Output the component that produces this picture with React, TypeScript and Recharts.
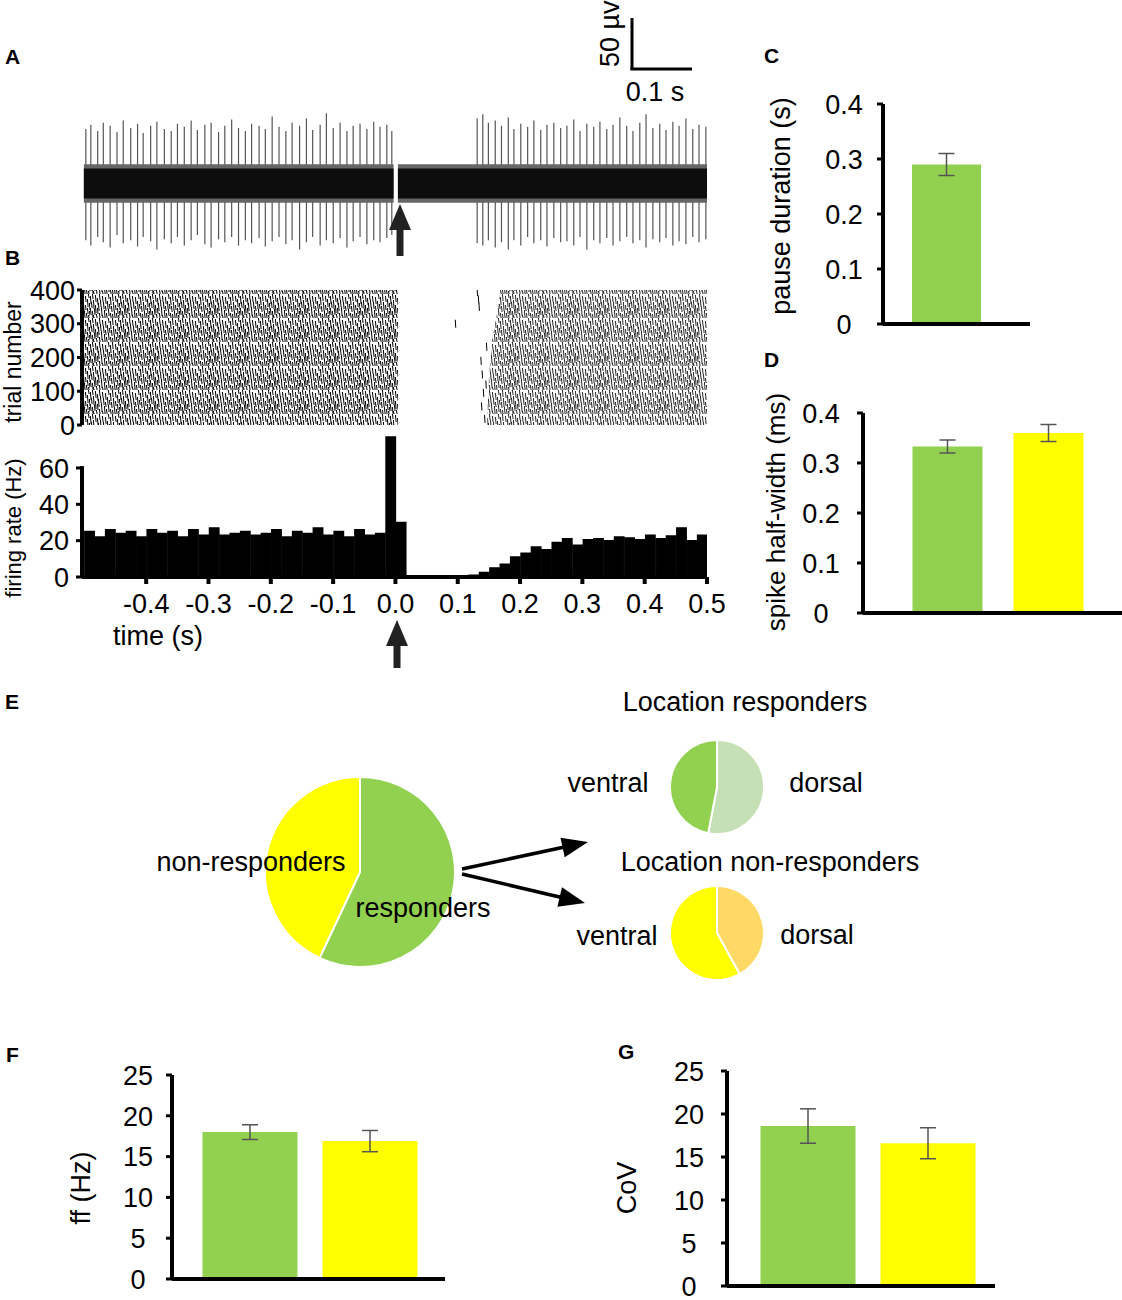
import React from "react";
import {
  Area,
  Bar,
  BarChart,
  Cell,
  ComposedChart,
  ErrorBar,
  Pie,
  PieChart,
  ReferenceLine,
  Scatter,
  XAxis,
  YAxis,
} from "recharts";

const FONT = '"Liberation Sans", Arial, Helvetica, sans-serif';
const GREEN = "#92d050";
const YELLOW = "#ffff00";
const LIGHT_GREEN = "#c5e0b4";
const LIGHT_ORANGE = "#ffd966";

// ---- A: example trace (time s, spike top µV, spike bottom µV)
const traceSpikes: [number, number, number][] = [
  [-0.497, 52, -55], [-0.489, 56, -60], [-0.478, 50, -52], [-0.469, 58, -57],
  [-0.458, 55, -62], [-0.447, 49, -50], [-0.437, 60, -58], [-0.425, 53, -55],
  [-0.414, 57, -61], [-0.405, 48, -52], [-0.393, 55, -56], [-0.383, 59, -64],
  [-0.371, 52, -54], [-0.36, 50, -58], [-0.35, 57, -52], [-0.339, 54, -60],
  [-0.328, 60, -55], [-0.318, 51, -50], [-0.306, 56, -59], [-0.296, 58, -62],
  [-0.284, 49, -54], [-0.274, 55, -57], [-0.263, 61, -52], [-0.252, 53, -60],
  [-0.241, 50, -55], [-0.231, 57, -58], [-0.219, 55, -53], [-0.209, 52, -61],
  [-0.198, 64, -56], [-0.187, 54, -52], [-0.176, 50, -59], [-0.166, 58, -55],
  [-0.154, 55, -64], [-0.143, 62, -57], [-0.133, 51, -52], [-0.121, 56, -60],
  [-0.111, 67, -55], [-0.1, 53, -58], [-0.089, 58, -53], [-0.078, 50, -62],
  [-0.068, 55, -56], [-0.057, 57, -52], [-0.046, 52, -59], [-0.035, 59, -55],
  [-0.025, 54, -57], [-0.014, 56, -53], [-0.006, 50, -50],
  [0.131, 62, -58], [0.14, 66, -60], [0.149, 58, -55], [0.16, 60, -62],
  [0.17, 55, -57], [0.181, 63, -64], [0.19, 52, -55], [0.201, 57, -60],
  [0.212, 54, -52], [0.222, 60, -58], [0.233, 51, -55], [0.243, 56, -61],
  [0.254, 58, -53], [0.265, 53, -57], [0.275, 55, -56], [0.286, 61, -60],
  [0.296, 50, -52], [0.307, 57, -64], [0.318, 54, -55], [0.328, 59, -58],
  [0.339, 52, -53], [0.349, 56, -60], [0.36, 63, -56], [0.371, 55, -52],
  [0.381, 50, -58], [0.392, 58, -55], [0.402, 66, -62], [0.413, 53, -54],
  [0.424, 57, -57], [0.434, 51, -53], [0.445, 59, -60], [0.455, 55, -56],
  [0.466, 62, -59], [0.477, 52, -52], [0.487, 56, -57], [0.498, 54, -54],
];

const traceBand = [
  { t: -0.5, outerPre: [-19, 18], innerPre: [-15, 14], outerPost: null, innerPost: null },
  { t: -0.003, outerPre: [-19, 18], innerPre: [-15, 14], outerPost: null, innerPost: null },
  { t: 0.004, outerPre: null, innerPre: null, outerPost: [-19, 18], innerPost: [-15, 14] },
  { t: 0.5, outerPre: null, innerPre: null, outerPost: [-19, 18], innerPost: [-15, 14] },
];

// ---- B: raster regions (time s, trial range) and stray spikes in the pause
const rasterPre = [
  { t: -0.5, trials: [0, 400] },
  { t: 0.004, trials: [0, 400] },
];
const rasterPost = [
  { t: 0.147, trials: [0, 0] },
  { t: 0.15, trials: [0, 140] },
  { t: 0.155, trials: [0, 250] },
  { t: 0.163, trials: [0, 330] },
  { t: 0.168, trials: [0, 400] },
  { t: 0.5, trials: [0, 400] },
];
const rasterStray = [
  { t: 0.096, trial: 300 },
  { t: 0.131, trial: 394 },
  { t: 0.133, trial: 372 },
  { t: 0.134, trial: 350 },
  { t: 0.146, trial: 232 },
  { t: 0.137, trial: 190 },
  { t: 0.139, trial: 150 },
  { t: 0.145, trial: 120 },
  { t: 0.141, trial: 95 },
  { t: 0.138, trial: 55 },
  { t: 0.143, trial: 18 },
];
const rasterTicks = [0, 100, 200, 300, 400];

// ---- B: PSTH, 60 bins of 1/60 s from -0.5 s to 0.5 s (Hz)
const psthStart = -0.5;
const psthBinWidth = 1 / 60;
const psthRates = [
  25, 22, 26, 24, 25, 22, 26, 24, 25, 22, 26, 23, 27, 23, 24, 25, 23, 24, 26, 22,
  25, 24, 27, 23, 25, 22, 26, 23, 24, 77, 30, 0, 0, 0, 0, 0, 0.5, 1, 2.5, 5,
  7, 11, 13, 16.5, 15, 19, 21, 17.5, 20.5, 21, 20, 22, 21.5, 20.5, 23, 21, 22.5, 27, 20, 23,
];
const timeTicks = [-0.4, -0.3, -0.2, -0.1, 0, 0.1, 0.2, 0.3, 0.4, 0.5];
const rateTicks = [0, 20, 40, 60];

// ---- C, D, F, G: group means and SEM
const pauseGroups = ["responders"];
const pauseMean = [0.29];
const pauseSem = [0.02];
const halfWidthGroups = ["responders", "non-responders"];
const halfWidthMean = [0.333, 0.36];
const halfWidthSem = [0.013, 0.017];
const ffGroups = ["responders", "non-responders"];
const ffMean = [18.0, 16.9];
const ffSem = [0.9, 1.3];
const covGroups = ["responders", "non-responders"];
const covMean = [18.6, 16.6];
const covSem = [2.0, 1.8];
const smallTicks = [0, 0.1, 0.2, 0.3, 0.4];
const fiveTicks = [0, 5, 10, 15, 20, 25];

// ---- E: proportions (%)
const responderShare = [
  { name: "responders", value: 57 },
  { name: "non-responders", value: 43 },
];
const responderLocation = [
  { name: "dorsal", value: 53 },
  { name: "ventral", value: 47 },
];
const nonResponderLocation = [
  { name: "dorsal", value: 42 },
  { name: "ventral", value: 58 },
];

const panelLetters = [
  { id: "A", x: 5, y: 64 },
  { id: "B", x: 5, y: 265 },
  { id: "C", x: 764, y: 63 },
  { id: "D", x: 764, y: 367 },
  { id: "E", x: 5, y: 709 },
  { id: "F", x: 6, y: 1062 },
  { id: "G", x: 618, y: 1059 },
];

const X_DOMAIN: [number, number] = [-0.503, 0.5];
const NO_MARGIN = { top: 0, right: 0, bottom: 0, left: 0 };

// texture tile for the raster (x, y, length)
const rasterTile: [number, number, number][] = [
  [0, 2, 8], [0, 14, 7], [1, 8, 6], [2, 0, 5], [2, 17, 7], [3, 6, 9], [4, 15, 6], [5, 1, 7],
  [5, 11, 8], [6, 20, 4], [7, 4, 7], [7, 14, 6], [8, 9, 8], [9, 0, 6], [9, 19, 5], [10, 6, 7],
  [11, 13, 9], [12, 2, 6], [12, 21, 3], [13, 8, 7], [14, 16, 8], [15, 3, 7], [15, 12, 5],
  [16, 19, 5], [17, 7, 8], [18, 0, 5], [18, 15, 7], [19, 10, 5], [20, 3, 8], [20, 19, 5],
  [21, 12, 6], [22, 0, 7], [22, 20, 4], [23, 8, 9], [24, 17, 7], [25, 2, 6], [25, 11, 5],
  [26, 19, 5], [27, 5, 8], [27, 14, 6], [28, 0, 4], [28, 21, 3], [29, 9, 7], [29, 17, 5],
  [3, 21, 3],
];

function RasterPattern() {
  return (
    <defs>
      <pattern id="rasterFill" patternUnits="userSpaceOnUse" width={30} height={24}>
        {rasterTile.map(([x, y, h], i) => (
          <line key={i} x1={x + 0.4} y1={y} x2={x + 1.1} y2={y + h} stroke="#000" strokeWidth={1} />
        ))}
      </pattern>
    </defs>
  );
}

function yTick(anchor: "middle" | "end", shift: number, fontSize = 27) {
  return (props: any) => (
    <text
      x={props.x - shift}
      y={props.y}
      dy="0.36em"
      textAnchor={anchor}
      fontSize={fontSize}
      fontFamily={FONT}
      fill="#000"
    >
      {props.payload.value}
    </text>
  );
}

function TimeTick(props: any) {
  return (
    <text x={props.x} y={props.y} dy={29} textAnchor="middle" fontSize={27} fontFamily={FONT} fill="#000">
      {Number(props.payload.value).toFixed(1)}
    </text>
  );
}

const abs = (left: number, top: number): React.CSSProperties => ({ position: "absolute", left, top });

type BarPanelProps = {
  left: number;
  top: number;
  width: number;
  height: number;
  margin: { top: number; right: number; bottom: number; left: number };
  groups: string[];
  means: number[];
  sems: number[];
  colors: string[];
  domain: [number, number];
  ticks: number[];
  yWidth: number;
  barSize: number;
  padding: { left: number; right: number };
  tickShift: number;
};

function BarPanel(p: BarPanelProps) {
  const data = p.groups.map((g, i) => ({ name: g, v: p.means[i], err: p.sems[i] }));
  return (
    <div style={abs(p.left, p.top)}>
      <BarChart width={p.width} height={p.height} data={data} margin={p.margin}>
        <XAxis
          dataKey="name"
          tick={false}
          tickLine={false}
          height={1}
          padding={p.padding}
          axisLine={{ stroke: "#000", strokeWidth: 4 }}
        />
        <YAxis
          width={p.yWidth}
          domain={p.domain}
          ticks={p.ticks}
          interval={0}
          tickSize={6}
          tickMargin={0}
          axisLine={{ stroke: "#000", strokeWidth: 4 }}
          tickLine={{ stroke: "#000", strokeWidth: 3 }}
          tick={yTick("middle", p.tickShift)}
        />
        <Bar dataKey="v" barSize={p.barSize} isAnimationActive={false}>
          {data.map((d, i) => (
            <Cell key={d.name} fill={p.colors[i]} />
          ))}
          <ErrorBar dataKey="err" width={8} stroke="#555" strokeWidth={1.5} />
        </Bar>
      </BarChart>
    </div>
  );
}

function arrowPath(x1: number, y1: number, x2: number, y2: number, len: number, hw: number) {
  const d = Math.hypot(x2 - x1, y2 - y1);
  const ux = (x2 - x1) / d;
  const uy = (y2 - y1) / d;
  const bx = x2 - ux * len;
  const by = y2 - uy * len;
  return {
    line: { x1, y1, x2: bx + ux * 2, y2: by + uy * 2 },
    head: `${x2},${y2} ${bx - uy * hw},${by + ux * hw} ${bx + uy * hw},${by - ux * hw}`,
  };
}

function upArrow(cx: number, tip: number, bottom: number) {
  const hh = 26;
  const hw = 11;
  const sw = 3.5;
  return `${cx},${tip} ${cx + hw},${tip + hh} ${cx + sw},${tip + hh} ${cx + sw},${bottom} ${cx - sw},${bottom} ${cx - sw},${tip + hh} ${cx - hw},${tip + hh}`;
}

export default function App() {
  const spikeData = traceSpikes.map(([t, up, down]) => ({ t, range: [down, up] }));
  const psthData = psthRates.map((rate, i) => ({ t: psthStart + (i + 0.5) * psthBinWidth, rate }));
  const e1 = arrowPath(462, 869, 588, 842, 26, 10);
  const e2 = arrowPath(462, 874, 585, 903, 26, 10);

  const txt = { fontFamily: FONT, fill: "#000" } as const;

  return (
    <div style={{ position: "absolute", left: 0, top: 0, width: 1122, height: 1300, background: "#fff", overflow: "hidden" }}>
      {/* A: spikes */}
      <div style={abs(0, 90)}>
        <ComposedChart width={720} height={190} data={spikeData} margin={{ top: 9.8, right: 13, bottom: 13.8, left: 82 }}>
          <XAxis type="number" dataKey="t" domain={X_DOMAIN} hide allowDataOverflow />
          <YAxis type="number" domain={[-80, 80]} hide allowDataOverflow />
          <Bar dataKey="range" barSize={1.2} fill="#555" isAnimationActive={false} />
        </ComposedChart>
      </div>
      {/* A: noise band */}
      <div style={abs(0, 90)}>
        <ComposedChart width={720} height={190} data={traceBand} margin={{ top: 9.8, right: 13, bottom: 13.8, left: 82 }}>
          <XAxis type="number" dataKey="t" domain={X_DOMAIN} hide allowDataOverflow />
          <YAxis type="number" domain={[-80, 80]} hide allowDataOverflow />
          <Area type="linear" dataKey="outerPre" stroke="none" fill="#666" fillOpacity={1} isAnimationActive={false} />
          <Area type="linear" dataKey="outerPost" stroke="none" fill="#666" fillOpacity={1} isAnimationActive={false} />
          <Area type="linear" dataKey="innerPre" stroke="none" fill="#0d0d0d" fillOpacity={1} isAnimationActive={false} />
          <Area type="linear" dataKey="innerPost" stroke="none" fill="#0d0d0d" fillOpacity={1} isAnimationActive={false} />
        </ComposedChart>
      </div>

      {/* B: raster, pre-stimulus block with axis */}
      <div style={abs(0, 270)}>
        <ComposedChart width={720} height={175} data={rasterPre} margin={{ top: 20, right: 13, bottom: 20, left: 0 }}>
          <RasterPattern />
          <XAxis type="number" dataKey="t" domain={X_DOMAIN} hide allowDataOverflow />
          <YAxis
            type="number"
            width={82}
            domain={[0, 400]}
            ticks={rasterTicks}
            interval={0}
            tickSize={5}
            tickMargin={0}
            axisLine={{ stroke: "#000", strokeWidth: 4 }}
            tickLine={{ stroke: "#000", strokeWidth: 3 }}
            tick={yTick("end", 2)}
          />
          <Area type="linear" dataKey="trials" stroke="none" fill="url(#rasterFill)" fillOpacity={1} isAnimationActive={false} />
        </ComposedChart>
      </div>
      <div style={abs(0, 270)}>
        <ComposedChart width={720} height={175} data={rasterPost} margin={{ top: 20, right: 13, bottom: 20, left: 82 }}>
          <RasterPattern />
          <XAxis type="number" dataKey="t" domain={X_DOMAIN} hide allowDataOverflow />
          <YAxis type="number" domain={[0, 400]} hide allowDataOverflow />
          <Area type="linear" dataKey="trials" stroke="none" fill="url(#rasterFill)" fillOpacity={0.85} isAnimationActive={false} />
        </ComposedChart>
      </div>
      <div style={abs(0, 270)}>
        <ComposedChart width={720} height={175} data={rasterStray} margin={{ top: 20, right: 13, bottom: 20, left: 82 }}>
          <XAxis type="number" dataKey="t" domain={X_DOMAIN} hide allowDataOverflow />
          <YAxis type="number" dataKey="trial" domain={[0, 400]} hide allowDataOverflow />
          <Scatter
            isAnimationActive={false}
            shape={(s: any) => <line x1={s.cx} y1={s.cy - 4} x2={s.cx + 0.5} y2={s.cy + 4} stroke="#000" strokeWidth={1} />}
          />
        </ComposedChart>
      </div>

      {/* B: PSTH */}
      <div style={abs(0, 420)}>
        <ComposedChart
          width={745}
          height={212}
          data={psthData}
          barCategoryGap={0}
          barGap={0}
          margin={{ top: 11.6, right: 38, bottom: 10, left: 0 }}
        >
          <XAxis
            type="number"
            dataKey="t"
            domain={X_DOMAIN}
            allowDataOverflow
            ticks={timeTicks}
            interval={0}
            height={45}
            tickSize={7}
            tickMargin={0}
            axisLine={{ stroke: "#000", strokeWidth: 4 }}
            tickLine={{ stroke: "#000", strokeWidth: 4 }}
            tick={TimeTick}
          />
          <YAxis
            type="number"
            width={82}
            domain={[0, 80]}
            ticks={rateTicks}
            interval={0}
            tickSize={6}
            tickMargin={0}
            axisLine={false}
            tickLine={{ stroke: "#000", strokeWidth: 3 }}
            tick={yTick("end", 7)}
          />
          <ReferenceLine
            segment={[
              { x: X_DOMAIN[0], y: 0 },
              { x: X_DOMAIN[0], y: 61 },
            ]}
            stroke="#000"
            strokeWidth={4}
            ifOverflow="visible"
          />
          <Bar dataKey="rate" barSize={10.4} fill="#000" stroke="#000" strokeWidth={1.5} isAnimationActive={false} />
        </ComposedChart>
      </div>

      {/* C */}
      <BarPanel
        left={800}
        top={90}
        width={240}
        height={250}
        margin={{ top: 14, right: 10, bottom: 15, left: 0 }}
        groups={pauseGroups}
        means={pauseMean}
        sems={pauseSem}
        colors={[GREEN]}
        domain={[0, 0.4]}
        ticks={smallTicks}
        yWidth={83}
        barSize={69}
        padding={{ left: 0, right: 21 }}
        tickShift={33}
      />
      {/* D */}
      <BarPanel
        left={780}
        top={400}
        width={342}
        height={230}
        margin={{ top: 13, right: 0, bottom: 16, left: 0 }}
        groups={halfWidthGroups}
        means={halfWidthMean}
        sems={halfWidthSem}
        colors={[GREEN, YELLOW]}
        domain={[0, 0.4]}
        ticks={smallTicks}
        yWidth={83}
        barSize={70}
        padding={{ left: 33.5, right: 23.5 }}
        tickShift={36}
      />
      {/* F */}
      <BarPanel
        left={90}
        top={1060}
        width={370}
        height={235}
        margin={{ top: 15, right: 15, bottom: 15, left: 0 }}
        groups={ffGroups}
        means={ffMean}
        sems={ffSem}
        colors={[GREEN, YELLOW]}
        domain={[0, 25]}
        ticks={fiveTicks}
        yWidth={82}
        barSize={95}
        padding={{ left: 17.5, right: 15.5 }}
        tickShift={28}
      />
      {/* G */}
      <BarPanel
        left={645}
        top={1055}
        width={360}
        height={245}
        margin={{ top: 16, right: 10, bottom: 13, left: 0 }}
        groups={covGroups}
        means={covMean}
        sems={covSem}
        colors={[GREEN, YELLOW]}
        domain={[0, 25]}
        ticks={fiveTicks}
        yWidth={82}
        barSize={95}
        padding={{ left: 20.5, right: 7.5 }}
        tickShift={32}
      />

      {/* E: pies */}
      <div style={abs(260, 772)}>
        <PieChart width={200} height={200} margin={NO_MARGIN}>
          <Pie
            data={responderShare}
            dataKey="value"
            cx={100}
            cy={100}
            outerRadius={95}
            startAngle={90}
            endAngle={-270}
            stroke="#fff"
            strokeWidth={2}
            isAnimationActive={false}
          >
            <Cell fill={GREEN} />
            <Cell fill={YELLOW} />
          </Pie>
        </PieChart>
      </div>
      <div style={abs(667, 737)}>
        <PieChart width={100} height={100} margin={NO_MARGIN}>
          <Pie
            data={responderLocation}
            dataKey="value"
            cx={50}
            cy={50}
            outerRadius={47}
            startAngle={90}
            endAngle={-270}
            stroke="#fff"
            strokeWidth={2}
            isAnimationActive={false}
          >
            <Cell fill={LIGHT_GREEN} />
            <Cell fill={GREEN} />
          </Pie>
        </PieChart>
      </div>
      <div style={abs(667, 883)}>
        <PieChart width={100} height={100} margin={NO_MARGIN}>
          <Pie
            data={nonResponderLocation}
            dataKey="value"
            cx={50}
            cy={50}
            outerRadius={47}
            startAngle={90}
            endAngle={-270}
            stroke="#fff"
            strokeWidth={2}
            isAnimationActive={false}
          >
            <Cell fill={LIGHT_ORANGE} />
            <Cell fill={YELLOW} />
          </Pie>
        </PieChart>
      </div>

      {/* annotations */}
      <svg width={1122} height={1300} style={{ position: "absolute", left: 0, top: 0, pointerEvents: "none" }}>
        {panelLetters.map((l) => (
          <text key={l.id} x={l.x} y={l.y} fontSize={21} fontWeight={700} {...txt}>
            {l.id}
          </text>
        ))}

        {/* scale bar */}
        <line x1={632} y1={18} x2={632} y2={70} stroke="#000" strokeWidth={3} />
        <line x1={630.5} y1={69} x2={692} y2={69} stroke="#000" strokeWidth={3} />
        <text transform="translate(619,67) rotate(-90)" fontSize={27} {...txt}>50 µv</text>
        <text x={655} y={101} textAnchor="middle" fontSize={27} {...txt}>0.1 s</text>

        {/* stimulus arrows */}
        <polygon points={upArrow(400, 204, 256)} fill="#222" />
        <polygon points={upArrow(397, 620, 668)} fill="#222" />

        {/* axis titles */}
        <text transform="translate(21,362) rotate(-90)" textAnchor="middle" fontSize={23} {...txt}>trial number</text>
        <text transform="translate(21,528) rotate(-90)" textAnchor="middle" fontSize={22} {...txt}>firing rate (Hz)</text>
        <text x={113} y={645} fontSize={27} {...txt}>time (s)</text>
        <text transform="translate(790,206) rotate(-90)" textAnchor="middle" fontSize={27} {...txt}>pause duration (s)</text>
        <text transform="translate(785,512) rotate(-90)" textAnchor="middle" fontSize={26} {...txt}>spike half-width (ms)</text>
        <text transform="translate(90,1188) rotate(-90)" textAnchor="middle" fontSize={27} {...txt}>ff (Hz)</text>
        <text transform="translate(636,1188) rotate(-90)" textAnchor="middle" fontSize={27} {...txt}>CoV</text>

        {/* E labels */}
        <text x={745} y={711} textAnchor="middle" fontSize={27} {...txt}>Location responders</text>
        <text x={608} y={792} textAnchor="middle" fontSize={27} {...txt}>ventral</text>
        <text x={826} y={792} textAnchor="middle" fontSize={27} {...txt}>dorsal</text>
        <text x={770} y={871} textAnchor="middle" fontSize={27} {...txt}>Location non-responders</text>
        <text x={617} y={945} textAnchor="middle" fontSize={27} {...txt}>ventral</text>
        <text x={817} y={944} textAnchor="middle" fontSize={27} {...txt}>dorsal</text>
        <text x={251} y={871} textAnchor="middle" fontSize={27} {...txt}>non-responders</text>
        <text x={423} y={917} textAnchor="middle" fontSize={27} {...txt}>responders</text>

        <line {...e1.line} stroke="#000" strokeWidth={3.5} />
        <polygon points={e1.head} fill="#000" />
        <line {...e2.line} stroke="#000" strokeWidth={3.5} />
        <polygon points={e2.head} fill="#000" />
      </svg>
    </div>
  );
}
